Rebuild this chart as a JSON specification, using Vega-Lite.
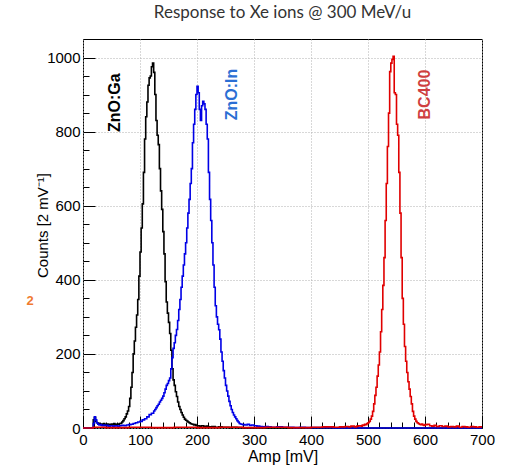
{
  "$schema": "https://vega.github.io/schema/vega-lite/v6.json",
  "width": 399,
  "height": 389,
  "autosize": {"type": "none"},
  "padding": {"left": 83, "top": 39, "right": 26, "bottom": 38},
  "background": "white",
  "title": {"text": "Response to Xe ions @ 300 MeV/u", "font": "Lato", "fontSize": 17, "fontWeight": "normal", "color": "#333333", "anchor": "middle", "offset": 17},
  "config": {
    "view": {"stroke": "#000000", "strokeWidth": 1},
    "axis": {"labelFont": "Liberation Sans", "titleFont": "Liberation Sans", "labelColor": "#000000", "titleColor": "#000000", "tickColor": "#000000", "domain": false}
  },
  "resolve": {"axis": {"x": "independent", "y": "independent"}, "scale": {"color": "independent"}},
  "datasets": {
    "hist": [
      {"series":"ZnO:Ga","amp":0,"counts":0},{"series":"ZnO:Ga","amp":18,"counts":22},{"series":"ZnO:Ga","amp":20,"counts":28},{"series":"ZnO:Ga","amp":22,"counts":18},{"series":"ZnO:Ga","amp":24,"counts":14},{"series":"ZnO:Ga","amp":26,"counts":11},{"series":"ZnO:Ga","amp":28,"counts":13},{"series":"ZnO:Ga","amp":30,"counts":10},{"series":"ZnO:Ga","amp":32,"counts":11},{"series":"ZnO:Ga","amp":34,"counts":9},{"series":"ZnO:Ga","amp":36,"counts":12},{"series":"ZnO:Ga","amp":38,"counts":10},{"series":"ZnO:Ga","amp":40,"counts":8},{"series":"ZnO:Ga","amp":42,"counts":11},{"series":"ZnO:Ga","amp":44,"counts":9},{"series":"ZnO:Ga","amp":46,"counts":10},{"series":"ZnO:Ga","amp":48,"counts":8},{"series":"ZnO:Ga","amp":50,"counts":11},{"series":"ZnO:Ga","amp":52,"counts":9},{"series":"ZnO:Ga","amp":54,"counts":12},{"series":"ZnO:Ga","amp":56,"counts":10},{"series":"ZnO:Ga","amp":58,"counts":9},{"series":"ZnO:Ga","amp":60,"counts":11},{"series":"ZnO:Ga","amp":62,"counts":10},{"series":"ZnO:Ga","amp":64,"counts":12},{"series":"ZnO:Ga","amp":66,"counts":13},{"series":"ZnO:Ga","amp":68,"counts":16},{"series":"ZnO:Ga","amp":70,"counts":20},{"series":"ZnO:Ga","amp":72,"counts":25},{"series":"ZnO:Ga","amp":74,"counts":30},{"series":"ZnO:Ga","amp":76,"counts":38},{"series":"ZnO:Ga","amp":78,"counts":46},{"series":"ZnO:Ga","amp":80,"counts":58},{"series":"ZnO:Ga","amp":82,"counts":80},{"series":"ZnO:Ga","amp":84,"counts":110},{"series":"ZnO:Ga","amp":86,"counts":150},{"series":"ZnO:Ga","amp":88,"counts":200},{"series":"ZnO:Ga","amp":90,"counts":235},{"series":"ZnO:Ga","amp":92,"counts":272},{"series":"ZnO:Ga","amp":94,"counts":305},{"series":"ZnO:Ga","amp":96,"counts":347},{"series":"ZnO:Ga","amp":98,"counts":410},{"series":"ZnO:Ga","amp":100,"counts":475},{"series":"ZnO:Ga","amp":102,"counts":540},{"series":"ZnO:Ga","amp":104,"counts":605},{"series":"ZnO:Ga","amp":106,"counts":690},{"series":"ZnO:Ga","amp":108,"counts":780},{"series":"ZnO:Ga","amp":110,"counts":840},{"series":"ZnO:Ga","amp":112,"counts":880},{"series":"ZnO:Ga","amp":114,"counts":925},{"series":"ZnO:Ga","amp":116,"counts":945},{"series":"ZnO:Ga","amp":118,"counts":950},{"series":"ZnO:Ga","amp":120,"counts":975},{"series":"ZnO:Ga","amp":122,"counts":985},{"series":"ZnO:Ga","amp":124,"counts":960},{"series":"ZnO:Ga","amp":126,"counts":900},{"series":"ZnO:Ga","amp":128,"counts":830},{"series":"ZnO:Ga","amp":130,"counts":790},{"series":"ZnO:Ga","amp":132,"counts":765},{"series":"ZnO:Ga","amp":134,"counts":700},{"series":"ZnO:Ga","amp":136,"counts":640},{"series":"ZnO:Ga","amp":138,"counts":590},{"series":"ZnO:Ga","amp":140,"counts":530},{"series":"ZnO:Ga","amp":142,"counts":470},{"series":"ZnO:Ga","amp":144,"counts":395},{"series":"ZnO:Ga","amp":146,"counts":340},{"series":"ZnO:Ga","amp":148,"counts":310},{"series":"ZnO:Ga","amp":150,"counts":285},{"series":"ZnO:Ga","amp":152,"counts":255},{"series":"ZnO:Ga","amp":154,"counts":210},{"series":"ZnO:Ga","amp":156,"counts":160},{"series":"ZnO:Ga","amp":158,"counts":130},{"series":"ZnO:Ga","amp":160,"counts":115},{"series":"ZnO:Ga","amp":162,"counts":98},{"series":"ZnO:Ga","amp":164,"counts":85},{"series":"ZnO:Ga","amp":166,"counts":70},{"series":"ZnO:Ga","amp":168,"counts":58},{"series":"ZnO:Ga","amp":170,"counts":50},{"series":"ZnO:Ga","amp":172,"counts":42},{"series":"ZnO:Ga","amp":174,"counts":35},{"series":"ZnO:Ga","amp":176,"counts":29},{"series":"ZnO:Ga","amp":178,"counts":24},{"series":"ZnO:Ga","amp":180,"counts":21},{"series":"ZnO:Ga","amp":182,"counts":19},{"series":"ZnO:Ga","amp":184,"counts":16},{"series":"ZnO:Ga","amp":186,"counts":14},{"series":"ZnO:Ga","amp":188,"counts":12},{"series":"ZnO:Ga","amp":190,"counts":11},{"series":"ZnO:Ga","amp":192,"counts":10},{"series":"ZnO:Ga","amp":194,"counts":8},{"series":"ZnO:Ga","amp":196,"counts":9},{"series":"ZnO:Ga","amp":198,"counts":7},{"series":"ZnO:Ga","amp":200,"counts":6},{"series":"ZnO:Ga","amp":204,"counts":5},{"series":"ZnO:Ga","amp":208,"counts":6},{"series":"ZnO:Ga","amp":212,"counts":4},{"series":"ZnO:Ga","amp":216,"counts":5},{"series":"ZnO:Ga","amp":220,"counts":3},{"series":"ZnO:Ga","amp":226,"counts":4},{"series":"ZnO:Ga","amp":232,"counts":2},{"series":"ZnO:Ga","amp":238,"counts":3},{"series":"ZnO:Ga","amp":244,"counts":2},{"series":"ZnO:Ga","amp":250,"counts":2},{"series":"ZnO:Ga","amp":256,"counts":1},{"series":"ZnO:Ga","amp":262,"counts":2},{"series":"ZnO:Ga","amp":270,"counts":1},{"series":"ZnO:Ga","amp":280,"counts":0},{"series":"ZnO:Ga","amp":700,"counts":0},

      {"series":"ZnO:In","amp":0,"counts":0},{"series":"ZnO:In","amp":18,"counts":12},{"series":"ZnO:In","amp":20,"counts":30},{"series":"ZnO:In","amp":22,"counts":22},{"series":"ZnO:In","amp":24,"counts":14},{"series":"ZnO:In","amp":26,"counts":10},{"series":"ZnO:In","amp":28,"counts":8},{"series":"ZnO:In","amp":30,"counts":9},{"series":"ZnO:In","amp":32,"counts":7},{"series":"ZnO:In","amp":34,"counts":6},{"series":"ZnO:In","amp":36,"counts":8},{"series":"ZnO:In","amp":38,"counts":6},{"series":"ZnO:In","amp":40,"counts":7},{"series":"ZnO:In","amp":44,"counts":5},{"series":"ZnO:In","amp":48,"counts":6},{"series":"ZnO:In","amp":52,"counts":5},{"series":"ZnO:In","amp":56,"counts":6},{"series":"ZnO:In","amp":60,"counts":5},{"series":"ZnO:In","amp":64,"counts":6},{"series":"ZnO:In","amp":68,"counts":7},{"series":"ZnO:In","amp":72,"counts":6},{"series":"ZnO:In","amp":76,"counts":8},{"series":"ZnO:In","amp":80,"counts":9},{"series":"ZnO:In","amp":84,"counts":10},{"series":"ZnO:In","amp":88,"counts":12},{"series":"ZnO:In","amp":92,"counts":14},{"series":"ZnO:In","amp":96,"counts":16},{"series":"ZnO:In","amp":100,"counts":18},{"series":"ZnO:In","amp":104,"counts":22},{"series":"ZnO:In","amp":108,"counts":25},{"series":"ZnO:In","amp":112,"counts":30},{"series":"ZnO:In","amp":116,"counts":36},{"series":"ZnO:In","amp":120,"counts":40},{"series":"ZnO:In","amp":124,"counts":46},{"series":"ZnO:In","amp":126,"counts":50},{"series":"ZnO:In","amp":128,"counts":55},{"series":"ZnO:In","amp":130,"counts":60},{"series":"ZnO:In","amp":132,"counts":64},{"series":"ZnO:In","amp":134,"counts":70},{"series":"ZnO:In","amp":136,"counts":75},{"series":"ZnO:In","amp":138,"counts":80},{"series":"ZnO:In","amp":140,"counts":86},{"series":"ZnO:In","amp":142,"counts":95},{"series":"ZnO:In","amp":144,"counts":105},{"series":"ZnO:In","amp":146,"counts":115},{"series":"ZnO:In","amp":148,"counts":120},{"series":"ZnO:In","amp":150,"counts":128},{"series":"ZnO:In","amp":152,"counts":135},{"series":"ZnO:In","amp":154,"counts":160},{"series":"ZnO:In","amp":156,"counts":190},{"series":"ZnO:In","amp":158,"counts":215},{"series":"ZnO:In","amp":160,"counts":230},{"series":"ZnO:In","amp":162,"counts":250},{"series":"ZnO:In","amp":164,"counts":266},{"series":"ZnO:In","amp":166,"counts":290},{"series":"ZnO:In","amp":168,"counts":320},{"series":"ZnO:In","amp":170,"counts":347},{"series":"ZnO:In","amp":172,"counts":380},{"series":"ZnO:In","amp":174,"counts":410},{"series":"ZnO:In","amp":176,"counts":440},{"series":"ZnO:In","amp":178,"counts":470},{"series":"ZnO:In","amp":180,"counts":500},{"series":"ZnO:In","amp":182,"counts":540},{"series":"ZnO:In","amp":184,"counts":580},{"series":"ZnO:In","amp":186,"counts":617},{"series":"ZnO:In","amp":188,"counts":660},{"series":"ZnO:In","amp":190,"counts":700},{"series":"ZnO:In","amp":192,"counts":770},{"series":"ZnO:In","amp":194,"counts":820},{"series":"ZnO:In","amp":196,"counts":860},{"series":"ZnO:In","amp":198,"counts":900},{"series":"ZnO:In","amp":200,"counts":922},{"series":"ZnO:In","amp":202,"counts":905},{"series":"ZnO:In","amp":204,"counts":860},{"series":"ZnO:In","amp":206,"counts":830},{"series":"ZnO:In","amp":208,"counts":870},{"series":"ZnO:In","amp":210,"counts":882},{"series":"ZnO:In","amp":212,"counts":875},{"series":"ZnO:In","amp":214,"counts":860},{"series":"ZnO:In","amp":216,"counts":820},{"series":"ZnO:In","amp":218,"counts":780},{"series":"ZnO:In","amp":220,"counts":690},{"series":"ZnO:In","amp":222,"counts":617},{"series":"ZnO:In","amp":224,"counts":560},{"series":"ZnO:In","amp":226,"counts":500},{"series":"ZnO:In","amp":228,"counts":440},{"series":"ZnO:In","amp":230,"counts":380},{"series":"ZnO:In","amp":232,"counts":330},{"series":"ZnO:In","amp":234,"counts":300},{"series":"ZnO:In","amp":236,"counts":280},{"series":"ZnO:In","amp":238,"counts":265},{"series":"ZnO:In","amp":240,"counts":240},{"series":"ZnO:In","amp":242,"counts":205},{"series":"ZnO:In","amp":244,"counts":180},{"series":"ZnO:In","amp":246,"counts":155},{"series":"ZnO:In","amp":248,"counts":135},{"series":"ZnO:In","amp":250,"counts":115},{"series":"ZnO:In","amp":252,"counts":100},{"series":"ZnO:In","amp":254,"counts":86},{"series":"ZnO:In","amp":256,"counts":72},{"series":"ZnO:In","amp":258,"counts":60},{"series":"ZnO:In","amp":260,"counts":50},{"series":"ZnO:In","amp":262,"counts":42},{"series":"ZnO:In","amp":264,"counts":35},{"series":"ZnO:In","amp":266,"counts":30},{"series":"ZnO:In","amp":268,"counts":25},{"series":"ZnO:In","amp":270,"counts":20},{"series":"ZnO:In","amp":272,"counts":16},{"series":"ZnO:In","amp":274,"counts":12},{"series":"ZnO:In","amp":276,"counts":11},{"series":"ZnO:In","amp":278,"counts":10},{"series":"ZnO:In","amp":280,"counts":9},{"series":"ZnO:In","amp":284,"counts":8},{"series":"ZnO:In","amp":288,"counts":10},{"series":"ZnO:In","amp":292,"counts":7},{"series":"ZnO:In","amp":296,"counts":8},{"series":"ZnO:In","amp":300,"counts":6},{"series":"ZnO:In","amp":305,"counts":5},{"series":"ZnO:In","amp":310,"counts":4},{"series":"ZnO:In","amp":315,"counts":3},{"series":"ZnO:In","amp":320,"counts":4},{"series":"ZnO:In","amp":325,"counts":3},{"series":"ZnO:In","amp":330,"counts":2},{"series":"ZnO:In","amp":340,"counts":3},{"series":"ZnO:In","amp":350,"counts":2},{"series":"ZnO:In","amp":360,"counts":2},{"series":"ZnO:In","amp":370,"counts":1},{"series":"ZnO:In","amp":380,"counts":2},{"series":"ZnO:In","amp":390,"counts":1},{"series":"ZnO:In","amp":400,"counts":1},{"series":"ZnO:In","amp":420,"counts":1},{"series":"ZnO:In","amp":440,"counts":0},{"series":"ZnO:In","amp":700,"counts":0},

      {"series":"BC400","amp":0,"counts":0},{"series":"BC400","amp":18,"counts":2},{"series":"BC400","amp":40,"counts":1},{"series":"BC400","amp":80,"counts":2},{"series":"BC400","amp":120,"counts":1},{"series":"BC400","amp":160,"counts":2},{"series":"BC400","amp":200,"counts":1},{"series":"BC400","amp":240,"counts":2},{"series":"BC400","amp":280,"counts":1},{"series":"BC400","amp":320,"counts":2},{"series":"BC400","amp":360,"counts":1},{"series":"BC400","amp":400,"counts":2},{"series":"BC400","amp":420,"counts":3},{"series":"BC400","amp":440,"counts":2},{"series":"BC400","amp":450,"counts":3},{"series":"BC400","amp":460,"counts":4},{"series":"BC400","amp":466,"counts":3},{"series":"BC400","amp":470,"counts":5},{"series":"BC400","amp":476,"counts":3},{"series":"BC400","amp":480,"counts":5},{"series":"BC400","amp":484,"counts":6},{"series":"BC400","amp":488,"counts":5},{"series":"BC400","amp":490,"counts":8},{"series":"BC400","amp":492,"counts":7},{"series":"BC400","amp":494,"counts":10},{"series":"BC400","amp":496,"counts":9},{"series":"BC400","amp":498,"counts":12},{"series":"BC400","amp":500,"counts":14},{"series":"BC400","amp":502,"counts":18},{"series":"BC400","amp":504,"counts":24},{"series":"BC400","amp":506,"counts":32},{"series":"BC400","amp":508,"counts":45},{"series":"BC400","amp":510,"counts":65},{"series":"BC400","amp":512,"counts":88},{"series":"BC400","amp":514,"counts":110},{"series":"BC400","amp":516,"counts":140},{"series":"BC400","amp":518,"counts":170},{"series":"BC400","amp":520,"counts":205},{"series":"BC400","amp":522,"counts":260},{"series":"BC400","amp":524,"counts":320},{"series":"BC400","amp":526,"counts":385},{"series":"BC400","amp":528,"counts":460},{"series":"BC400","amp":530,"counts":560},{"series":"BC400","amp":532,"counts":660},{"series":"BC400","amp":534,"counts":760},{"series":"BC400","amp":536,"counts":850},{"series":"BC400","amp":538,"counts":962},{"series":"BC400","amp":540,"counts":985},{"series":"BC400","amp":542,"counts":995},{"series":"BC400","amp":544,"counts":1003},{"series":"BC400","amp":546,"counts":905},{"series":"BC400","amp":548,"counts":900},{"series":"BC400","amp":550,"counts":820},{"series":"BC400","amp":552,"counts":790},{"series":"BC400","amp":554,"counts":690},{"series":"BC400","amp":556,"counts":580},{"series":"BC400","amp":558,"counts":460},{"series":"BC400","amp":560,"counts":350},{"series":"BC400","amp":562,"counts":280},{"series":"BC400","amp":564,"counts":220},{"series":"BC400","amp":566,"counts":180},{"series":"BC400","amp":568,"counts":150},{"series":"BC400","amp":570,"counts":125},{"series":"BC400","amp":572,"counts":105},{"series":"BC400","amp":574,"counts":85},{"series":"BC400","amp":576,"counts":65},{"series":"BC400","amp":578,"counts":45},{"series":"BC400","amp":580,"counts":32},{"series":"BC400","amp":582,"counts":24},{"series":"BC400","amp":584,"counts":18},{"series":"BC400","amp":586,"counts":14},{"series":"BC400","amp":588,"counts":12},{"series":"BC400","amp":590,"counts":10},{"series":"BC400","amp":592,"counts":9},{"series":"BC400","amp":594,"counts":11},{"series":"BC400","amp":596,"counts":8},{"series":"BC400","amp":598,"counts":7},{"series":"BC400","amp":600,"counts":9},{"series":"BC400","amp":604,"counts":10},{"series":"BC400","amp":608,"counts":6},{"series":"BC400","amp":612,"counts":5},{"series":"BC400","amp":616,"counts":7},{"series":"BC400","amp":620,"counts":4},{"series":"BC400","amp":625,"counts":6},{"series":"BC400","amp":630,"counts":4},{"series":"BC400","amp":635,"counts":5},{"series":"BC400","amp":640,"counts":3},{"series":"BC400","amp":645,"counts":4},{"series":"BC400","amp":650,"counts":3},{"series":"BC400","amp":655,"counts":5},{"series":"BC400","amp":660,"counts":2},{"series":"BC400","amp":665,"counts":4},{"series":"BC400","amp":670,"counts":3},{"series":"BC400","amp":675,"counts":2},{"series":"BC400","amp":680,"counts":4},{"series":"BC400","amp":685,"counts":3},{"series":"BC400","amp":690,"counts":2},{"series":"BC400","amp":695,"counts":3},{"series":"BC400","amp":700,"counts":3}
    ],
    "labels": [
      {"label": "ZnO:Ga", "amp": 56, "counts": 878},
      {"label": "ZnO:In", "amp": 261, "counts": 900},
      {"label": "BC400", "amp": 600, "counts": 900}
    ],
    "note": [
      {"label": "2", "amp": -93, "counts": 342}
    ]
  },
  "layer": [
    {
      "data": {"name": "hist"},
      "mark": {"type": "line", "interpolate": "step-after", "strokeWidth": 1.6},
      "encoding": {
        "x": {"field": "amp", "type": "quantitative", "scale": {"domain": [0, 700], "nice": false, "zero": false},
          "axis": {"orient": "bottom", "values": [0, 100, 200, 300, 400, 500, 600, 700], "format": "d", "tickSize": -12, "labelPadding": 16, "labelFontSize": 15, "labelFlush": false, "labelOverlap": false, "grid": true, "gridDash": [1, 2], "gridColor": "#b0b0b0", "title": "Amp [mV]", "titleFontSize": 16, "titleFontWeight": "normal", "titleY": 28, "titleBaseline": "middle"}},
        "y": {"field": "counts", "type": "quantitative", "scale": {"domain": [0, 1050], "nice": false},
          "axis": {"orient": "left", "values": [0, 200, 400, 600, 800, 1000], "format": "d", "tickSize": -12, "labelPadding": 15, "labelFontSize": 15, "labelFlush": false, "labelOverlap": false, "grid": true, "gridDash": [1, 2], "gridColor": "#b0b0b0", "title": "Counts [2 mV⁻¹]", "titleFontSize": 15, "titleFontWeight": "normal", "titleX": -41, "titleY": 186, "titleAngle": -90, "titleAlign": "center", "titleBaseline": "middle"}},
        "color": {"field": "series", "type": "nominal", "scale": {"domain": ["ZnO:Ga", "ZnO:In", "BC400"], "range": ["#000000", "#0000e6", "#e00000"]}, "legend": null},
        "order": {"field": "amp", "type": "quantitative"}
      }
    },
    {
      "data": {"name": "labels"},
      "mark": {"type": "text", "angle": 270, "font": "Liberation Sans", "fontSize": 16, "fontWeight": "bold", "align": "center", "baseline": "middle"},
      "encoding": {
        "x": {"field": "amp", "type": "quantitative", "axis": null},
        "y": {"field": "counts", "type": "quantitative", "axis": null},
        "text": {"field": "label"},
        "color": {"field": "label", "type": "nominal", "scale": {"domain": ["ZnO:Ga", "ZnO:In", "BC400"], "range": ["#000000", "#2b6fd4", "#cf3f3f"]}, "legend": null}
      }
    },
    {
      "data": {"name": "note"},
      "mark": {"type": "text", "font": "Liberation Sans", "fontSize": 13, "fontWeight": "bold", "color": "#f07a30", "align": "center", "baseline": "middle"},
      "encoding": {
        "x": {"field": "amp", "type": "quantitative",
          "axis": {"orient": "bottom", "values": [20, 40, 60, 80, 120, 140, 160, 180, 220, 240, 260, 280, 320, 340, 360, 380, 420, 440, 460, 480, 520, 540, 560, 580, 620, 640, 660, 680], "tickSize": -6, "labels": false, "grid": false, "domain": false, "title": null}},
        "y": {"field": "counts", "type": "quantitative",
          "axis": {"orient": "left", "values": [50, 100, 150, 250, 300, 350, 450, 500, 550, 650, 700, 750, 850, 900, 950, 1050], "tickSize": -6, "labels": false, "grid": false, "domain": false, "title": null}},
        "text": {"field": "label"}
      }
    }
  ]
}
